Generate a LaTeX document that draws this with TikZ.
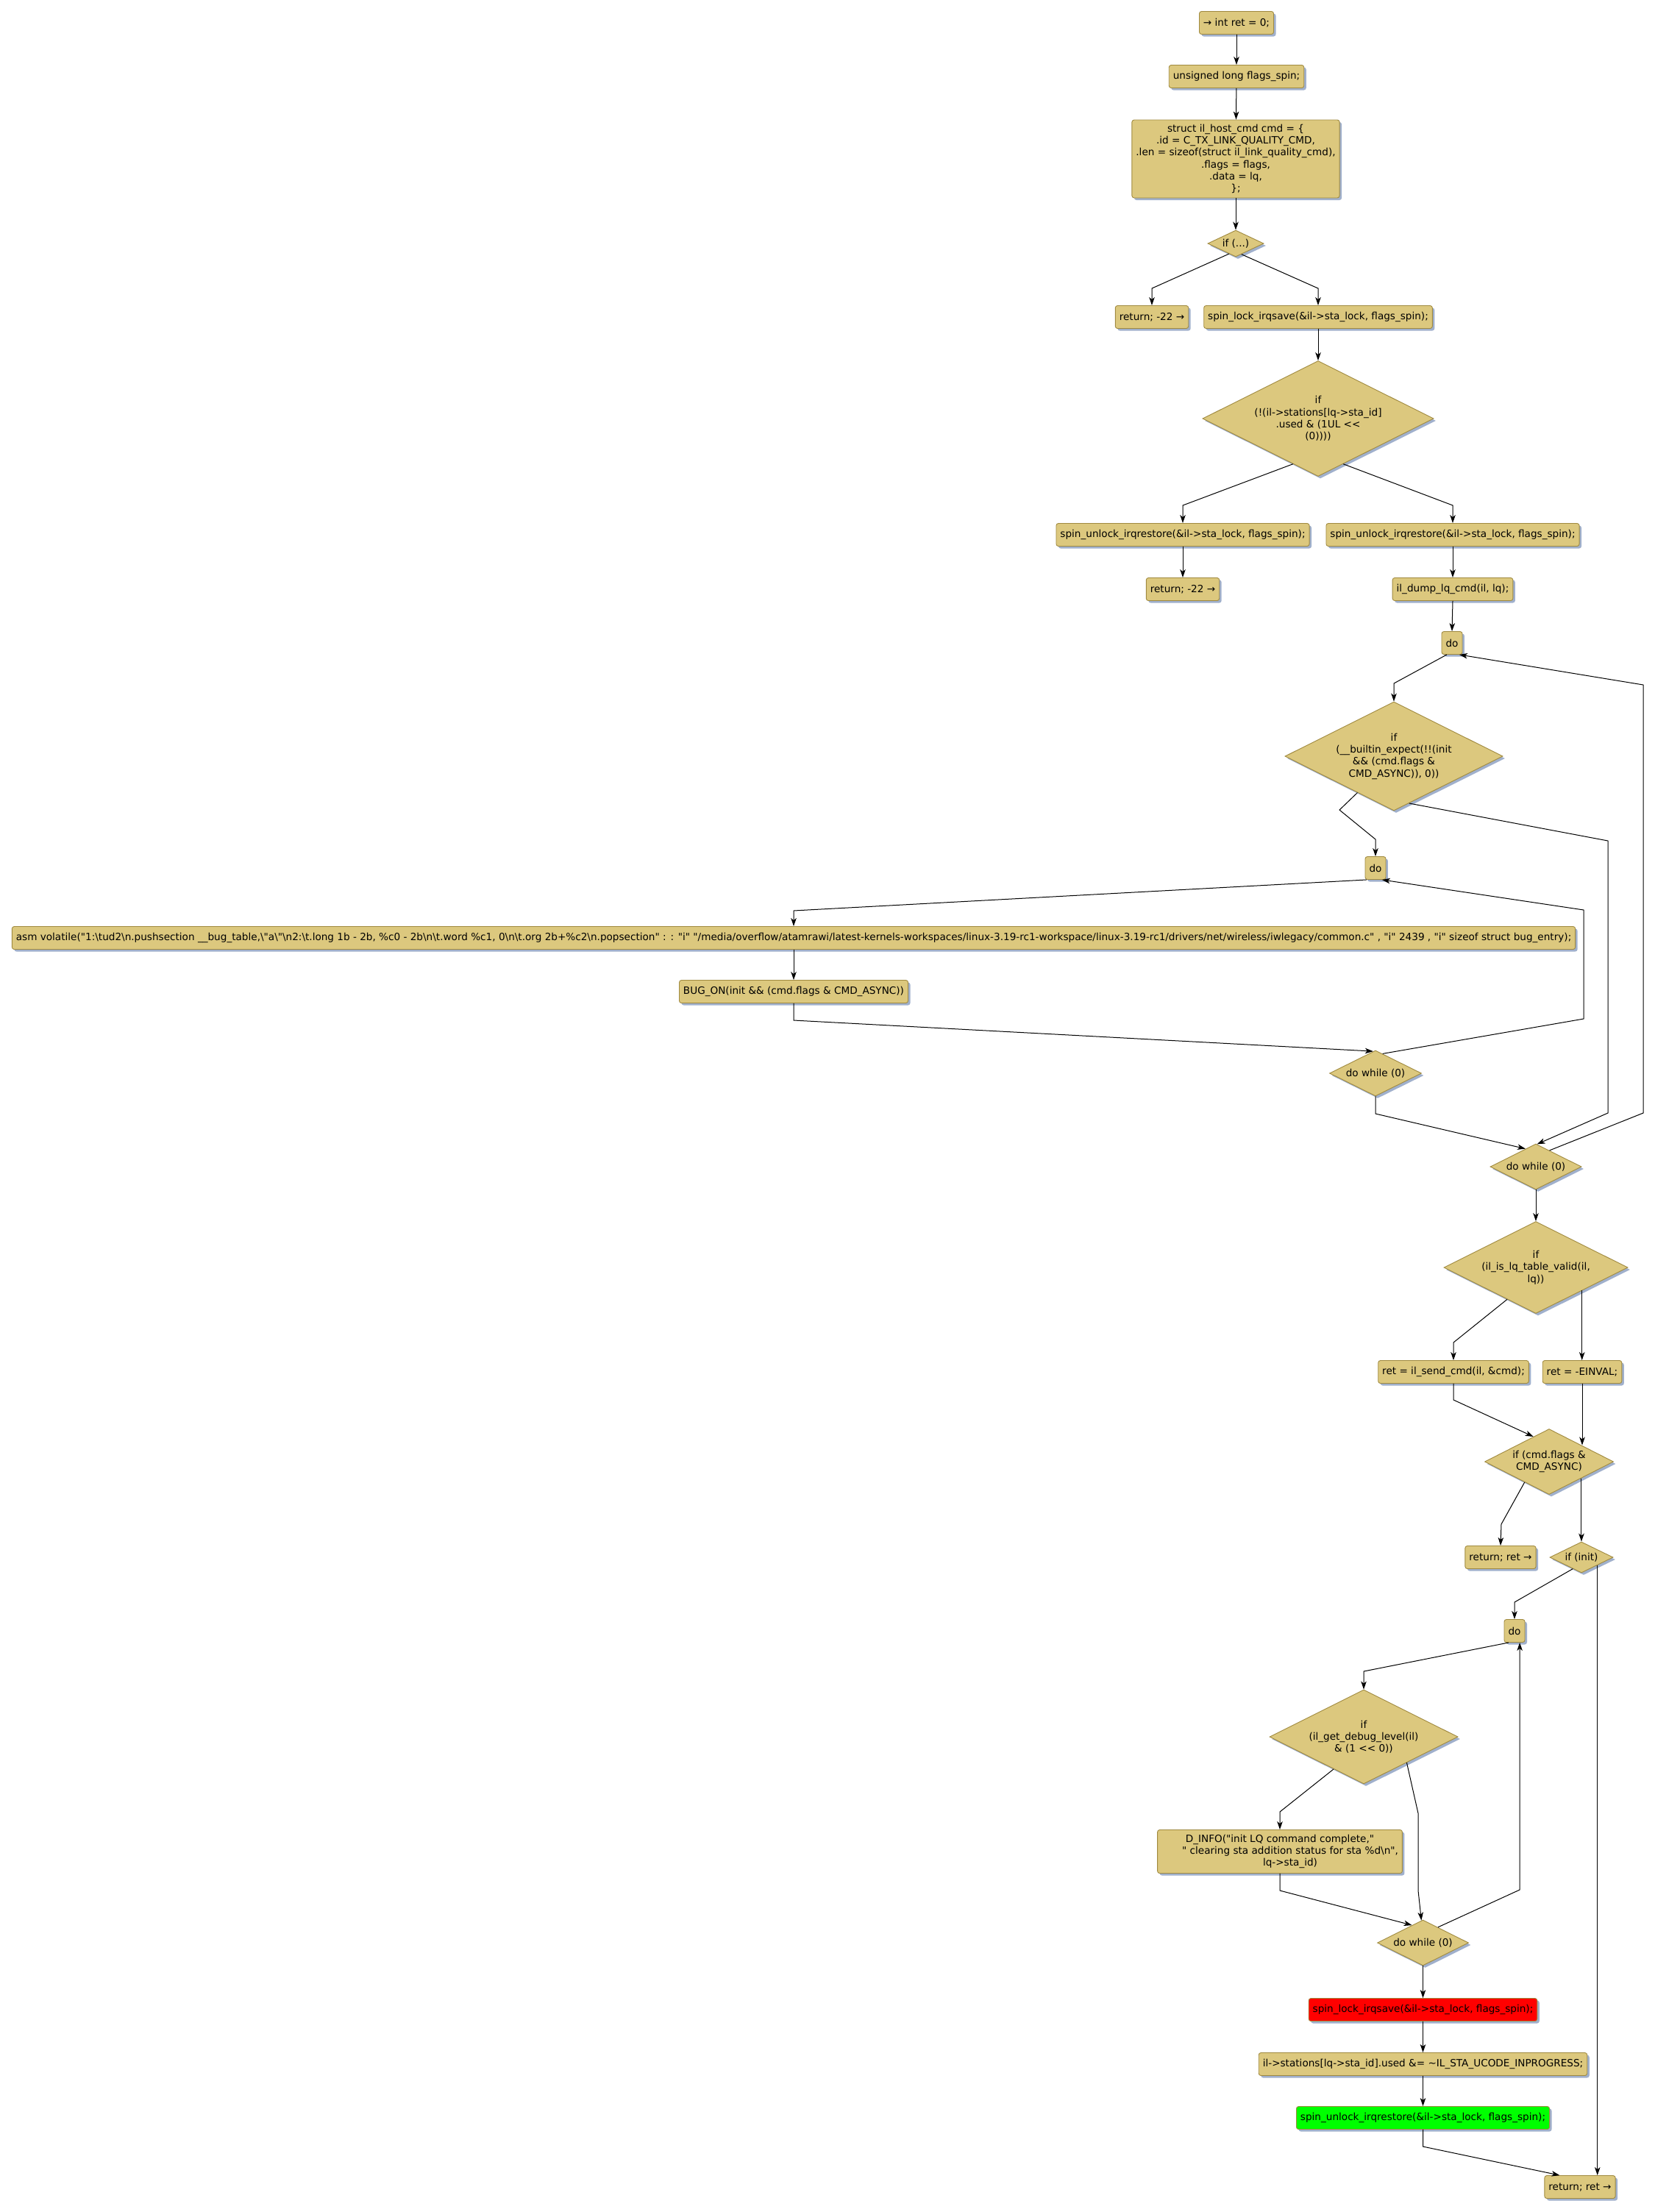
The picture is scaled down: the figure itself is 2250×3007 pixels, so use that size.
\documentclass[tikz,border=0pt]{standalone}
\usepackage{fontspec}
\setmainfont{DejaVu Sans}[Ligatures=TeXOff]
\usetikzlibrary{shapes.geometric,shadows,arrows.meta}
\definecolor{boxc}{RGB}{220,200,126}
\definecolor{bordc}{RGB}{160,138,64}
\definecolor{shadc}{RGB}{160,176,204}
\newcommand\mybs{\textbackslash}
\begin{document}
\begin{tikzpicture}[x=1pt,y=-1pt,
  every node/.style={font=\fontsize{13.6}{16.3}\selectfont},
  shad/.style={drop shadow={shadow xshift=3pt,shadow yshift=-3pt,fill=shadc,opacity=1}},
  box/.style={shad,draw=bordc,fill=boxc,rounded corners=3pt,line width=0.9pt,
    inner xsep=5.5pt,inner ysep=0pt,minimum height=31pt,align=center},
  dia/.style={shad,shape=diamond,draw=bordc,fill=boxc,line width=0.9pt,
    inner sep=0pt,shape aspect=2,align=center},
  arr/.style={-{Stealth[length=11pt,width=7.5pt,inset=3pt]},line width=1pt,black},
]
\fill[white] (0,0) rectangle (2250,3007);
\useasboundingbox (0,0) rectangle (2250,3007);

\node[box] (start) at (1681,31) {→ int ret = 0;};
\node[box] (flags) at (1681,104) {unsigned long flags\_spin;};
\node[box,minimum height=106pt] (cmd) at (1680,216) {struct il\_host\_cmd cmd = \{\\.id = C\_TX\_LINK\_QUALITY\_CMD,\\.len = sizeof(struct il\_link\_quality\_cmd),\\.flags = flags,\\.data = lq,\\\};};
\node[dia,minimum width=76pt,minimum height=36pt] (if1) at (1680,331) {if (...)};
\node[box] (ret1) at (1566,431) {return; -22 →};
\node[box] (lock1) at (1792,431) {spin\_lock\_irqsave(\&il->sta\_lock, flags\_spin);};
\node[dia,minimum width=314pt,minimum height=157pt] (bigif) at (1792,569) {if\\(!(il->stations[lq->sta\_id]\\.used \& (1UL <<\\(0))))};
\node[box] (unlockL) at (1608,727) {spin\_unlock\_irqrestore(\&il->sta\_lock, flags\_spin);};
\node[box] (unlockR) at (1975,727) {spin\_unlock\_irqrestore(\&il->sta\_lock, flags\_spin);};
\node[box] (ret2) at (1608,801) {return; -22 →};
\node[box] (dump) at (1975,801) {il\_dump\_lq\_cmd(il, lq);};
\node[box] (do1) at (1974,874) {do};
\node[dia,minimum width=296pt,minimum height=148pt] (builtin) at (1895,1028) {if\\(\_\_builtin\_expect(!!(init\\\&\& (cmd.flags \&\\CMD\_ASYNC)), 0))};
\node[box] (do2) at (1870,1180) {do};
\node[box] (asm) at (1079,1275) {asm volatile("1:\mybs tud2\mybs n.pushsection \_\_bug\_table,\mybs "a\mybs "\mybs n2:\mybs t.long 1b - 2b, \%c0 - 2b\mybs n\mybs t.word \%c1, 0\mybs n\mybs t.org 2b+\%c2\mybs n.popsection" : : "i" "/media/overflow/atamrawi/latest-kernels-workspaces/linux-3.19-rc1-workspace/linux-3.19-rc1/drivers/net/wireless/iwlegacy/common.c" , "i" 2439 , "i" sizeof struct bug\_entry);};
\node[box] (bugon) at (1079,1348) {BUG\_ON(init \&\& (cmd.flags \& CMD\_ASYNC))};
\node[dia,minimum width=125pt,minimum height=62pt] (whileIn) at (1870,1459) {do while (0)};
\node[dia,minimum width=124pt,minimum height=62pt] (whileOut) at (2088,1586) {do while (0)};
\node[dia,minimum width=250pt,minimum height=125pt] (valid) at (2088,1723) {if\\(il\_is\_lq\_table\_valid(il,\\lq))};
\node[box] (send) at (1976,1865) {ret = il\_send\_cmd(il, \&cmd);};
\node[box] (einval) at (2151,1865) {ret = -EINVAL;};
\node[dia,minimum width=175pt,minimum height=89pt] (async) at (2106,1987) {if (cmd.flags \&\\CMD\_ASYNC)};
\node[box] (ret3) at (2040,2117) {return; ret →};
\node[dia,minimum width=86pt,minimum height=42pt] (ifinit) at (2150,2117) {if (init)};
\node[box] (do3) at (2059,2217) {do};
\node[dia,minimum width=256pt,minimum height=128pt] (debug) at (1854,2361) {if\\(il\_get\_debug\_level(il)\\\& (1 << 0))};
\node[box,minimum height=59pt] (dinfo) at (1740,2517) {D\_INFO("init LQ command complete,"\\\hspace*{28pt}" clearing sta addition status for sta \%d\mybs n",\\\hspace*{28pt}lq->sta\_id)};
\node[dia,minimum width=124pt,minimum height=62pt] (while3) at (1934.5,2641) {do while (0)};
\node[box,fill=red] (red) at (1934.5,2732) {spin\_lock\_irqsave(\&il->sta\_lock, flags\_spin);};
\node[box] (stations) at (1934.5,2806) {il->stations[lq->sta\_id].used \&= \textasciitilde IL\_STA\_UCODE\_INPROGRESS;};
\node[box,fill=green] (green) at (1934.5,2879) {spin\_unlock\_irqrestore(\&il->sta\_lock, flags\_spin);};
\node[box] (retEnd) at (2148,2973) {return; ret →};

\draw[arr] (start) -- (flags);
\draw[arr] (flags) -- (cmd);
\draw[arr] (cmd) -- (if1);
\draw[arr] (if1.-123) -- (1566,392) -- (ret1.north);
\draw[arr] (if1.-62) -- (1792,392) -- (lock1.north);
\draw[arr] (lock1) -- (bigif);
\draw[arr] (bigif.-119) -- (1608,687) -- (unlockL.north);
\draw[arr] (bigif.-61) -- (1975,687) -- (unlockR.north);
\draw[arr] (unlockL) -- (ret2);
\draw[arr] (unlockR) -- (dump);
\draw[arr] (dump.south) -- (do1.north);
\draw[arr] (do1.-114) -- (1895,929) -- (builtin.north);
\draw[arr] (builtin.-135) -- (1821,1101) -- (1870,1141) -- (do2.north);
\draw[arr] (builtin.-72) -- (2186,1143) -- (2186,1513) -- (whileOut.87);
\draw[arr] (whileOut.50) -- (2234,1513) -- (2234,931) -- (do1.-58);
\draw[arr] (do2.-127) -- (1079,1238) -- (asm.north);
\draw[arr] (asm) -- (bugon);
\draw[arr] (bugon.south) -- (1079,1387) -- (whileIn.96);
\draw[arr] (whileIn.70) -- (2153,1385) -- (2153,1237) -- (do2.-61);
\draw[arr] (whileIn.south) -- (1870,1514) -- (whileOut.120);
\draw[arr] (whileOut) -- (valid);
\draw[arr] (valid.-132) -- (1976,1825) -- (send.north);
\draw[arr] (valid.south east) -- (valid.south east |- einval.north);
\draw[arr] (send.south) -- (1976,1903) -- (async.122);
\draw[arr] (einval.south) -- (einval.south |- async.north east);
\draw[arr] (async.-140) -- (2041,2072) -- (ret3.north);
\draw[arr] (async.south east) -- (async.south east |- ifinit.north);
\draw[arr] (ifinit.-127) -- (2059,2178) -- (do3.north);
\draw[arr] (ifinit.south east) -- (ifinit.south east |- retEnd.north);
\draw[arr] (do3.-117) -- (1854,2272) -- (debug.north);
\draw[arr] (debug.-133) -- (1740,2463) -- (dinfo.north);
\draw[arr] (debug.-31) -- (1928,2465) -- (1928,2570) -- (while3.94);
\draw[arr] (dinfo.south) -- (1740,2570) -- (while3.122);
\draw[arr] (while3.46) -- (2066,2569) -- (do3.-66);
\draw[arr] (while3) -- (red);
\draw[arr] (red) -- (stations);
\draw[arr] (stations) -- (green);
\draw[arr] (green.south) -- (1934.5,2918) -- (retEnd.150);
\end{tikzpicture}
\end{document}
